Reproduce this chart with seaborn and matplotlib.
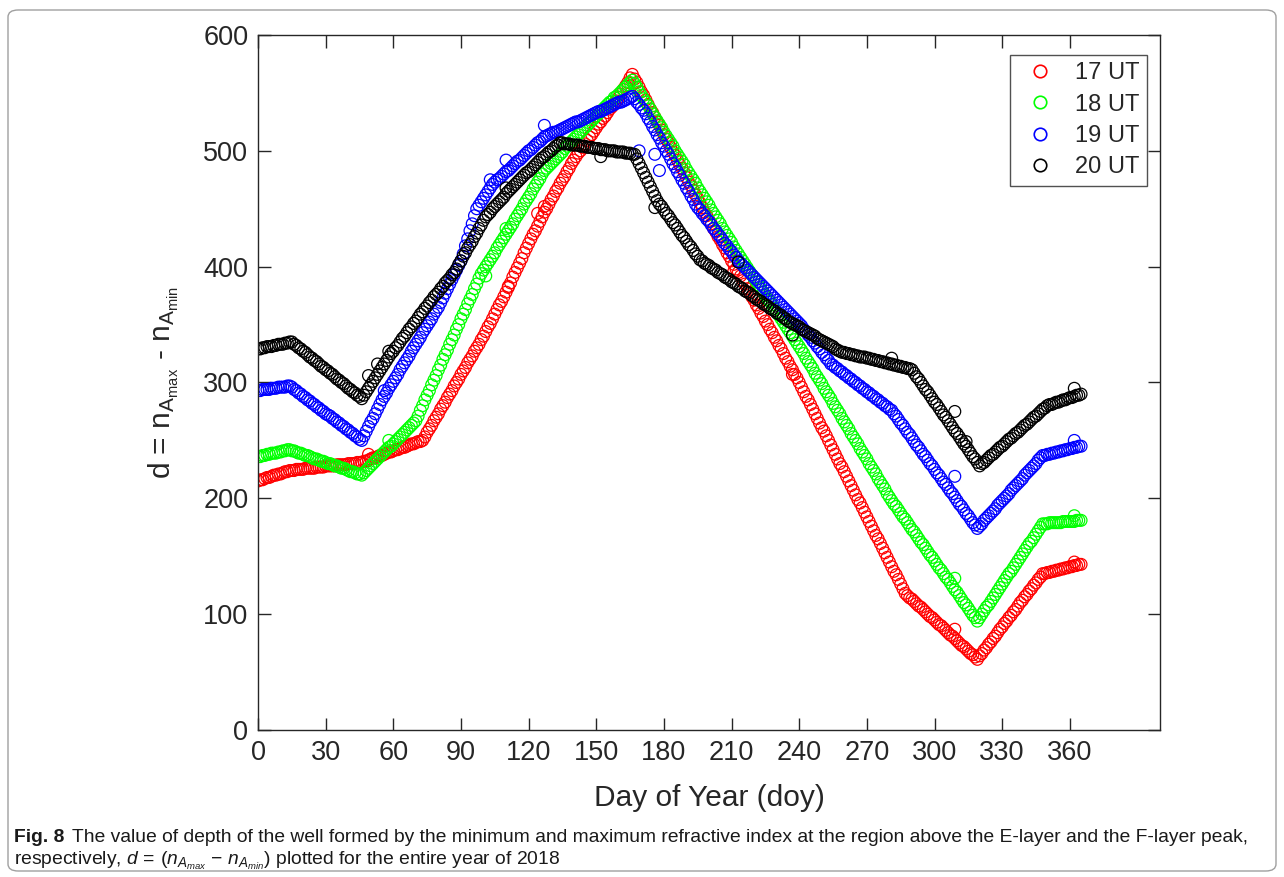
import matplotlib
matplotlib.use("Agg")
import matplotlib.pyplot as plt
import seaborn as sns
from matplotlib.lines import Line2D
from matplotlib.patches import FancyBboxPatch

# ---------------- data ----------------
days_even = list(range(0, 365, 2))     # 0, 2, ..., 364
days_odd = list(range(1, 366, 2))      # 1, 3, ..., 365

red_17_even = [
    215, 216, 218, 219, 220, 221, 223, 224, 224, 225,   # 0-18
    225, 226, 226, 227, 227, 228, 228, 228, 229, 229,   # 20-38
    230, 230, 231, 231, 232, 234, 235, 237, 238, 240,   # 40-58
    241, 242, 244, 245, 247, 248, 249, 253, 260, 267,   # 60-78
    273, 280, 287, 293, 300, 307, 313, 320, 327, 333,   # 80-98
    340, 348, 355, 363, 370, 378, 386, 395, 403, 412,   # 100-118
    420, 428, 435, 443, 450, 458, 465, 472, 478, 485,   # 120-138
    492, 498, 503, 509, 514, 520, 525, 530, 536, 541,   # 140-158
    546, 553, 559, 566, 559, 551, 544, 536, 529, 522,   # 160-178
    514, 507, 499, 492, 485, 477, 470, 462, 455, 447,   # 180-198
    440, 433, 426, 419, 412, 405, 398, 392, 385, 378,   # 200-218
    371, 364, 357, 350, 343, 336, 329, 321, 314, 307,   # 220-238
    300, 292, 285, 277, 269, 261, 254, 246, 238, 230,   # 240-258
    223, 215, 207, 199, 192, 184, 176, 168, 161, 153,   # 260-278
    145, 137, 130, 122, 116, 113, 109, 106, 102, 98,    # 280-298
    95, 91, 88, 84, 81, 77, 73, 70, 66, 63,             # 300-318
    64, 69, 74, 79, 84, 89, 94, 99, 104, 110,           # 320-338
    115, 120, 125, 130, 135, 136, 137, 138, 139, 140,   # 340-358
    141, 142, 143]                                      # 360-364
red_17_odd = [
    216, 217, 218, 220, 221, 222, 223, 224, 225, 225,   # 1-19
    226, 226, 226, 227, 227, 228, 228, 229, 229, 229,   # 21-39
    230, 230, 231, 232, 233, 235, 236, 237, 239, 240,   # 41-59
    242, 243, 244, 246, 247, 249, 250, 257, 263, 270,   # 61-79
    277, 283, 290, 297, 303, 310, 317, 323, 330, 337,   # 81-99
    344, 351, 359, 367, 374, 382, 391, 399, 407, 416,   # 101-119
    424, 431, 439, 447, 454, 461, 468, 475, 482, 489,   # 121-139
    495, 500, 506, 512, 517, 523, 528, 533, 538, 543,   # 141-159
    549, 556, 563, 562, 555, 548, 540, 533, 525, 518,   # 161-179
    510, 503, 496, 488, 481, 473, 466, 459, 451, 444,   # 181-199
    437, 430, 423, 416, 409, 402, 395, 388, 381, 374,   # 201-219
    367, 360, 353, 346, 339, 332, 325, 318, 311, 304,   # 221-239
    296, 288, 281, 273, 265, 258, 250, 242, 234, 227,   # 241-259
    219, 211, 203, 196, 188, 180, 172, 165, 157, 149,   # 261-279
    141, 134, 126, 118, 114, 111, 107, 104, 100, 97,    # 281-299
    93, 90, 86, 82, 79, 75, 72, 68, 65, 61,             # 301-319
    66, 71, 76, 81, 87, 92, 97, 102, 107, 112,          # 321-339
    117, 122, 127, 132, 135, 136, 137, 138, 139, 140,   # 341-359
    141, 142, 143]                                      # 361-365

green_18_even = [
    236, 237, 238, 239, 239, 240, 241, 242, 241, 239,
    238, 237, 235, 234, 232, 231, 230, 228, 227, 226,
    224, 223, 221, 220, 224, 228, 232, 236, 240, 244,
    247, 251, 255, 259, 263, 267, 276, 285, 293, 302,
    311, 320, 328, 337, 346, 355, 363, 372, 381, 390,
    397, 403, 409, 416, 422, 428, 434, 441, 447, 454,
    460, 467, 473, 480, 485, 489, 493, 497, 502, 506,
    510, 514, 518, 522, 526, 530, 534, 538, 542, 546,
    549, 553, 557, 561, 555, 548, 542, 536, 529, 523,
    516, 510, 504, 497, 491, 484, 478, 472, 465, 459,
    453, 446, 440, 433, 427, 421, 414, 408, 402, 396,
    390, 384, 378, 372, 367, 361, 355, 349, 343, 337,
    331, 325, 318, 312, 305, 299, 292, 286, 279, 273,
    266, 260, 253, 247, 240, 234, 227, 221, 214, 208,
    201, 195, 190, 184, 179, 173, 168, 162, 157, 151,
    146, 140, 135, 130, 124, 119, 113, 108, 102, 97,
    97, 103, 108, 114, 120, 126, 132, 137, 143, 149,
    155, 161, 166, 172, 178, 178, 179, 179, 179, 180,
    180, 180, 181]
green_18_odd = [
    236, 237, 238, 239, 240, 241, 242, 241, 240, 239,
    237, 236, 234, 233, 232, 230, 229, 228, 226, 225,
    223, 222, 221, 222, 226, 230, 234, 238, 242, 245,
    249, 253, 257, 261, 265, 271, 280, 289, 298, 306,
    315, 324, 333, 341, 350, 359, 368, 376, 385, 394,
    400, 406, 412, 419, 425, 431, 437, 444, 450, 457,
    463, 470, 476, 483, 487, 491, 495, 499, 504, 508,
    512, 516, 520, 524, 528, 532, 536, 540, 543, 547,
    551, 555, 559, 558, 551, 545, 539, 532, 526, 520,
    513, 507, 500, 494, 488, 481, 475, 468, 462, 456,
    449, 443, 437, 430, 424, 417, 411, 405, 399, 393,
    387, 381, 375, 370, 364, 358, 352, 346, 340, 334,
    328, 321, 315, 308, 302, 295, 289, 282, 276, 269,
    263, 256, 250, 243, 237, 230, 224, 217, 211, 204,
    198, 193, 187, 182, 176, 171, 165, 160, 154, 149,
    143, 138, 132, 127, 121, 116, 110, 105, 99, 94,
    100, 106, 111, 117, 123, 129, 135, 140, 146, 152,
    158, 163, 169, 175, 178, 179, 179, 179, 180, 180,
    180, 181, 181]

blue_19_even = [
    293, 294, 294, 295, 295, 296, 296, 297, 294, 291,
    288, 285, 282, 279, 276, 273, 271, 268, 265, 262,
    259, 256, 253, 250, 258, 266, 273, 281, 288, 295,
    301, 307, 314, 320, 327, 333, 339, 346, 352, 359,
    365, 373, 381, 389, 397, 405, 418, 431, 444, 453,
    459, 465, 471, 475, 478, 482, 485, 489, 492, 496,
    500, 503, 507, 510, 513, 515, 516, 518, 520, 522,
    524, 525, 527, 529, 531, 533, 534, 536, 538, 540,
    542, 543, 545, 547, 542, 537, 532, 525, 518, 511,
    504, 497, 489, 482, 475, 468, 461, 454, 449, 444,
    439, 433, 428, 423, 418, 413, 408, 403, 399, 395,
    391, 387, 383, 379, 375, 371, 367, 363, 359, 355,
    351, 346, 341, 336, 331, 326, 321, 316, 313, 310,
    307, 304, 301, 298, 295, 292, 289, 286, 283, 280,
    277, 273, 268, 263, 257, 252, 246, 241, 236, 230,
    225, 220, 214, 209, 204, 198, 193, 187, 182, 177,
    176, 181, 185, 189, 194, 198, 202, 207, 211, 215,
    220, 224, 228, 233, 237, 238, 239, 240, 241, 242,
    243, 244, 245]
blue_19_odd = [
    293, 294, 294, 295, 296, 296, 297, 296, 293, 290,
    287, 284, 281, 278, 275, 272, 269, 266, 263, 260,
    257, 254, 251, 254, 262, 269, 277, 285, 291, 298,
    304, 311, 317, 323, 330, 336, 343, 349, 355, 362,
    369, 377, 385, 393, 401, 411, 424, 437, 450, 456,
    462, 468, 473, 476, 480, 483, 487, 491, 494, 498,
    501, 505, 508, 512, 514, 516, 517, 519, 521, 523,
    525, 526, 528, 530, 532, 534, 535, 537, 539, 541,
    542, 544, 546, 545, 540, 535, 528, 521, 514, 507,
    500, 493, 486, 479, 472, 465, 458, 451, 446, 441,
    436, 431, 426, 420, 415, 410, 405, 401, 397, 393,
    389, 385, 381, 377, 373, 369, 365, 361, 357, 353,
    349, 344, 339, 334, 329, 324, 319, 315, 312, 309,
    306, 303, 300, 297, 294, 291, 288, 285, 282, 279,
    276, 271, 265, 260, 255, 249, 244, 238, 233, 228,
    222, 217, 212, 206, 201, 195, 190, 185, 179, 174,
    178, 183, 187, 191, 196, 200, 204, 209, 213, 217,
    222, 226, 230, 235, 237, 238, 239, 240, 241, 242,
    243, 244, 245]

black_20_even = [
    329, 330, 331, 331, 332, 333, 334, 335, 333, 330,
    327, 324, 321, 318, 314, 311, 308, 305, 302, 299,
    295, 292, 289, 286, 292, 298, 304, 310, 316, 322,
    327, 332, 338, 343, 348, 353, 359, 364, 369, 374,
    378, 383, 388, 393, 398, 405, 412, 419, 426, 433,
    440, 445, 450, 454, 458, 463, 467, 471, 475, 479,
    482, 486, 490, 494, 497, 500, 504, 507, 506, 506,
    505, 505, 504, 503, 503, 502, 501, 501, 500, 500,
    499, 499, 498, 497, 493, 485, 477, 469, 461, 454,
    449, 444, 438, 433, 427, 422, 417, 411, 406, 403,
    401, 398, 395, 393, 390, 387, 385, 382, 379, 377,
    374, 371, 368, 366, 363, 360, 358, 355, 352, 350,
    348, 345, 343, 341, 338, 336, 334, 332, 329, 327,
    326, 325, 324, 323, 322, 321, 320, 319, 318, 317,
    316, 315, 314, 313, 312, 311, 305, 300, 294, 289,
    283, 278, 272, 267, 261, 256, 250, 245, 239, 234,
    228, 231, 235, 238, 242, 245, 249, 252, 256, 259,
    263, 266, 270, 273, 277, 280, 281, 283, 284, 285,
    287, 288, 289]
black_20_odd = [
    329, 330, 331, 332, 333, 333, 334, 335, 332, 329,
    326, 322, 319, 316, 313, 310, 307, 303, 300, 297,
    294, 291, 288, 289, 295, 301, 307, 313, 319, 325,
    330, 335, 340, 346, 351, 356, 361, 366, 371, 376,
    381, 386, 390, 395, 402, 409, 416, 422, 429, 436,
    443, 447, 452, 456, 460, 465, 469, 473, 477, 481,
    484, 488, 492, 495, 499, 502, 505, 507, 506, 505,
    505, 504, 504, 503, 502, 502, 501, 500, 500, 499,
    499, 498, 498, 497, 489, 481, 473, 465, 457, 452,
    446, 441, 436, 430, 425, 419, 414, 409, 405, 402,
    399, 397, 394, 391, 389, 386, 383, 381, 378, 375,
    372, 370, 367, 364, 362, 359, 356, 353, 351, 349,
    346, 344, 342, 340, 337, 335, 333, 331, 328, 326,
    325, 324, 323, 322, 322, 321, 320, 319, 318, 317,
    316, 315, 314, 313, 312, 308, 303, 297, 292, 286,
    281, 275, 270, 264, 258, 253, 247, 242, 236, 231,
    230, 233, 237, 240, 244, 247, 251, 254, 257, 261,
    264, 268, 271, 275, 278, 281, 282, 283, 285, 286,
    287, 289, 290]

# scattered individual days that sit off the main curves
red_out_day = [49, 111, 124, 127, 211, 237, 309, 362]
red_out_val = [238, 383, 446, 452, 396, 307, 87, 145]
green_out_day = [58, 101, 110, 309, 362]
green_out_val = [250, 392, 433, 131, 185]
blue_out_day = [56, 103, 110, 127, 169, 176, 178, 309, 362]
blue_out_val = [293, 475, 492, 522, 500, 497, 483, 219, 250]
black_out_day = [49, 53, 58, 110, 152, 176, 213, 237, 281, 309, 314, 362]
black_out_val = [306, 316, 327, 468, 495, 451, 404, 341, 321, 275, 249, 295]

labels = ["17 UT", "18 UT", "19 UT", "20 UT"]
colors = ["#ff0000", "#00ff00", "#0000ff", "#000000"]
x_ticks = [0, 30, 60, 90, 120, 150, 180, 210, 240, 270, 300, 330, 360]
y_ticks = [0, 100, 200, 300, 400, 500, 600]

# ---------------- style ----------------
sns.set_style("ticks")
plt.rcParams["font.family"] = ["Liberation Sans", "DejaVu Sans"]
plt.rcParams["mathtext.fontset"] = "custom"
plt.rcParams["mathtext.rm"] = "Liberation Sans"
plt.rcParams["mathtext.it"] = "Liberation Sans:italic"
axc = "#262626"

fig = plt.figure(figsize=(12.84, 8.77), dpi=100)
W, H = 1284, 877
ax = fig.add_axes([258 / W, 1 - 730 / H, (1160 - 258) / W, (730 - 35) / H])

series = [
    (red_17_even, red_17_odd, red_out_day, red_out_val),
    (green_18_even, green_18_odd, green_out_day, green_out_val),
    (blue_19_even, blue_19_odd, blue_out_day, blue_out_val),
    (black_20_even, black_20_odd, black_out_day, black_out_val),
]
for (ev, od_vals, od, ov), col in zip(series, colors):
    sns.scatterplot(x=days_even + days_odd + od, y=ev + od_vals + ov, ax=ax,
                    marker="o", s=72, facecolors="none", edgecolor=col,
                    linewidth=0.9, legend=False)

ax.set_xlim(0, 400)
ax.set_ylim(0, 600)
ax.set_xticks(x_ticks)
ax.set_yticks(y_ticks)
ax.tick_params(direction="in", length=9, width=1, top=True, right=True,
               labelsize=19.5, colors=axc, pad=7)
for sp in ax.spines.values():
    sp.set_visible(True)
    sp.set_color(axc)
    sp.set_linewidth(1.0)

ax.set_xlabel("Day of Year (doy)", fontsize=21.5, color=axc, labelpad=13)
ax.set_ylabel(r"d = n$_{\mathregular{A}_{\mathregular{max}}}$ - n$_{\mathregular{A}_{\mathregular{min}}}$",
              fontsize=21.5, color=axc, labelpad=16)

handles = [Line2D([], [], linestyle="none", marker="o", markersize=9,
                  markerfacecolor="none", markeredgecolor=c,
                  markeredgewidth=1.2) for c in colors]
leg = ax.legend(handles, labels, loc="upper right", bbox_to_anchor=(0.9856, 0.9712),
                fontsize=17, frameon=True, fancybox=False, edgecolor=axc,
                handletextpad=0.48, labelspacing=0.4, borderpad=0.3,
                handlelength=2.0, borderaxespad=0)
leg.get_frame().set_linewidth(1.0)
for t in leg.get_texts():
    t.set_color(axc)

# ---------------- frame and caption ----------------
fig.patches.append(FancyBboxPatch((8 / W, 6 / H), (1276 - 8) / W, (867 - 6) / H,
                                  boxstyle="round,pad=0,rounding_size=0.008",
                                  transform=fig.transFigure, fill=False,
                                  edgecolor="#a0a0a0", linewidth=1.0))

cap_font = ["Liberation Sans"]
fig.text(14 / W, 1 - 838 / H, "Fig. 8", fontsize=13.9, fontweight="bold",
         family=cap_font, color="#1a1a1a", va="center", ha="left")
fig.text(72 / W, 1 - 838 / H,
         "The value of depth of the well formed by the minimum and maximum refractive index "
         "at the region above the E-layer and the F-layer peak,",
         fontsize=13.9, family=cap_font, color="#1a1a1a", va="center", ha="left")
fig.text(14 / W, 1 - 861 / H,
         r"respectively, $d\,=\,(n_{A_{max}}\,-\,n_{A_{min}})$ plotted for the entire year of 2018",
         fontsize=13.9, family=cap_font, color="#1a1a1a", va="center", ha="left")

fig.savefig("out.png", dpi=100)
